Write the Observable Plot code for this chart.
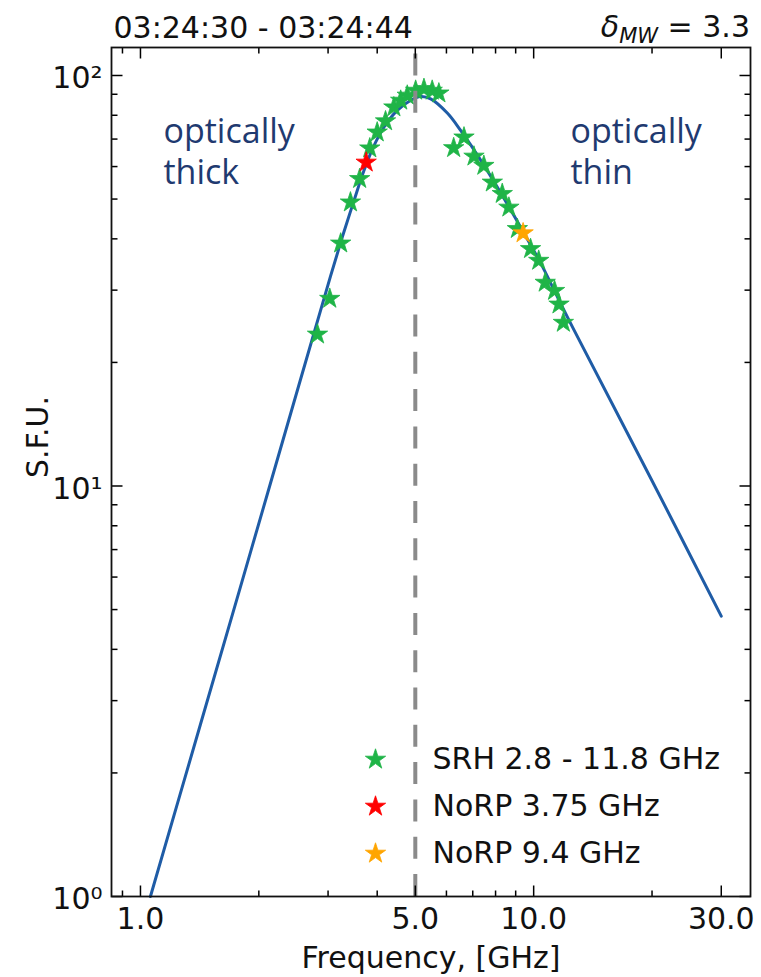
<!DOCTYPE html>
<html><head><meta charset="utf-8">
<script src="https://cdn.jsdelivr.net/npm/d3@7"></script>
<script src="https://cdn.jsdelivr.net/npm/@observablehq/plot@0.6"></script>
<style>html,body{margin:0;padding:0;background:#fff}</style>
</head><body><div id="chart"></div>
<script>
// ---- data ----
const curveFreq = [1.06, 1.42, 1.905, 2.554, 3.045, 3.29, 3.49, 3.7, 3.89, 4.16, 4.5, 4.86, 5.16, 5.47, 6.03, 6.52, 7.47, 8.32, 9.45, 10.42, 11.49, 12.66, 20.0, 30.0];
const curveFlux = [1.0, 2.62, 6.9, 18.2, 32.5, 41.5, 49.5, 58.6, 66.2, 74.8, 82.2, 86.9, 88.9, 87.7, 81.0, 73.5, 60.5, 51.0, 41.3, 34.9, 28.9, 24.0, 10.3, 4.82];

const srhFreq = [2.82, 3.03, 3.23, 3.42, 3.61, 3.83, 4.00, 4.20, 4.41, 4.59, 4.77, 5.01, 5.26, 5.52, 5.74, 6.26, 6.65, 7.05, 7.47, 7.85, 8.32, 8.65, 9.09, 9.82, 10.3, 10.7, 11.3, 11.6, 11.9];
const srhFlux = [23.4, 28.6, 39.0, 49.1, 56.0, 66.5, 72.7, 77.4, 83.7, 86.9, 89.4, 91.9, 92.8, 91.9, 90.5, 66.6, 70.7, 63.5, 60.3, 54.9, 51.5, 47.7, 42.3, 37.8, 35.4, 31.3, 29.9, 27.7, 25.0];

const norp375Freq = [3.75];
const norp375Flux = [61.4];
const norp94Freq = [9.4];
const norp94Flux = [41.3];

const peakLine = [5.0];

const xTickValues = [1, 5, 10, 30];
const xTickLabels = ["1.0", "5.0", "10.0", "30.0"];
const xMinorTicks = [0.9, 2, 3, 4, 6, 7, 8, 9, 20];
const yTickValues = [1, 10, 100];
const yTickLabels = ["10\u2070", "10\u00B9", "10\u00B2"];
const yMinorTicks = [2, 3, 4, 5, 6, 7, 8, 9, 20, 30, 40, 50, 60, 70, 80, 90];

const legendLabels = ["SRH 2.8 - 11.8 GHz", "NoRP 3.75 GHz", "NoRP 9.4 GHz"];
const titleLeft = "03:24:30 - 03:24:44";
const xLabel = "Frequency, [GHz]";
const yLabel = "S.F.U.";
const annotThick = ["optically", "thick"];
const annotThin = ["optically", "thin"];

// ---- layout / style ----
const W = 761, H = 977;
const mL = 111, mR = 11, mT = 47, mB = 81;
const xDomain = [0.844, 35.6], yDomain = [1, 117];
const green = "#1fb447", red = "#ff0000", orange = "#ffa500";
const legendColors = [green, red, orange];
const curveColor = "#1f5ca6";
const annotColor = "#1f3a70";
const FS = 30;

const curve = curveFreq.map((f, i) => ({f, s: curveFlux[i]}));
const srh = srhFreq.map((f, i) => ({f, s: srhFlux[i]}));
const n375 = norp375Freq.map((f, i) => ({f, s: norp375Flux[i]}));
const n94 = norp94Freq.map((f, i) => ({f, s: norp94Flux[i]}));

const tickSym = (dx, dy) => ({draw(c) { c.moveTo(0, 0); c.lineTo(dx, dy); }});
const MAJ = 11, MIN = 6;
const tk = {stroke: "black", fill: "none", strokeWidth: 1.5};
const annotStyle = {frameAnchor: "top-left", textAnchor: "start", lineAnchor: "bottom", fontSize: 34, fontFamily: "Open Sans", fill: annotColor, text: d => d};

const marks = [
  Plot.line(curve, {x: "f", y: "s", stroke: curveColor, strokeWidth: 3, curve: "catmull-rom"}),
  Plot.dot(srh, {x: "f", y: "s", symbol: "star", r: 6.4, fill: green, stroke: green, strokeWidth: 0.8}),
  Plot.dot(n375, {x: "f", y: "s", symbol: "star", r: 6.4, fill: red, stroke: red, strokeWidth: 0.8}),
  Plot.dot(n94, {x: "f", y: "s", symbol: "star", r: 6.4, fill: orange, stroke: orange, strokeWidth: 0.8}),
  Plot.ruleX(peakLine, {x: d => d, y1: yDomain[0], y2: yDomain[1], stroke: "#8a8a8a", strokeWidth: 4, strokeDasharray: "22,15.3"}),
  // ticks (inward, all four sides)
  Plot.dot(xTickValues, {x: d => d, frameAnchor: "bottom", symbol: tickSym(0, -MAJ), ...tk}),
  Plot.dot(xMinorTicks, {x: d => d, frameAnchor: "bottom", symbol: tickSym(0, -MIN), ...tk}),
  Plot.dot(xTickValues, {x: d => d, frameAnchor: "top", symbol: tickSym(0, MAJ), ...tk}),
  Plot.dot(xMinorTicks, {x: d => d, frameAnchor: "top", symbol: tickSym(0, MIN), ...tk}),
  Plot.dot(yTickValues, {y: d => d, frameAnchor: "left", symbol: tickSym(MAJ, 0), ...tk}),
  Plot.dot(yMinorTicks, {y: d => d, frameAnchor: "left", symbol: tickSym(MIN, 0), ...tk}),
  Plot.dot(yTickValues, {y: d => d, frameAnchor: "right", symbol: tickSym(-MAJ, 0), ...tk}),
  Plot.dot(yMinorTicks, {y: d => d, frameAnchor: "right", symbol: tickSym(-MIN, 0), ...tk}),
  Plot.frame({stroke: "#111", strokeWidth: 1.8}),
  // tick labels
  Plot.axisX(xTickValues, {anchor: "bottom", tickSize: 0, tickPadding: 11, label: null,
    tickFormat: d => xTickLabels[xTickValues.indexOf(d)], fontSize: FS, fill: "#111"}),
  Plot.axisY(yTickValues, {anchor: "left", tickSize: 0, tickPadding: 9, label: null, dy: 3,
    tickFormat: d => yTickLabels[yTickValues.indexOf(d)], fontSize: FS, fill: "#111"}),
  // axis titles
  Plot.text([xLabel], {frameAnchor: "bottom", lineAnchor: "bottom", dy: 71, fontSize: FS, fill: "#111", text: d => d}),
  Plot.text([yLabel], {frameAnchor: "left", rotate: -90, lineAnchor: "bottom", dx: -64, dy: 6, fontSize: FS, fill: "#111", text: d => d}),
  // title left
  Plot.text([titleLeft], {frameAnchor: "top-left", textAnchor: "start", lineAnchor: "bottom", dx: 2, dy: -10, fontSize: FS, fill: "#111", text: d => d}),
  // annotations (two lines each)
  Plot.text([annotThick[0]], {...annotStyle, dx: 52, dy: 95}),
  Plot.text([annotThick[1]], {...annotStyle, dx: 52, dy: 136}),
  Plot.text([annotThin[0]], {...annotStyle, dx: 459, dy: 95}),
  Plot.text([annotThin[1]], {...annotStyle, dx: 459, dy: 136})
];

// legend
legendLabels.forEach((lab, i) => {
  marks.push(Plot.dot([lab], {frameAnchor: "top-left", dx: 264, dy: 712 + 47 * i, symbol: "star", r: 6.4, fill: legendColors[i], stroke: legendColors[i], strokeWidth: 0.8}));
  marks.push(Plot.text([lab], {frameAnchor: "top-left", textAnchor: "start", lineAnchor: "bottom", dx: 321, dy: 721 + 47 * i, fontSize: FS, fill: "#111", text: d => d}));
});

const chart = Plot.plot({
  width: W, height: H,
  marginLeft: mL, marginRight: mR, marginTop: mT, marginBottom: mB,
  style: {fontFamily: "'DejaVu Sans', sans-serif", fontSize: FS + "px", background: "#fff", color: "#111"},
  x: {type: "log", domain: xDomain, axis: null, label: null},
  y: {type: "log", domain: yDomain, axis: null, label: null},
  marks
});

// right-hand title with math subscript: δ_MW = 3.3
const t = d3.select(chart).append("text")
  .attr("x", W - mR).attr("y", mT - 10)
  .attr("text-anchor", "end")
  .attr("font-family", "'DejaVu Sans', sans-serif")
  .attr("font-size", FS).attr("fill", "#111");
t.append("tspan").attr("font-style", "italic").text("\u03B4");
t.append("tspan").attr("font-style", "italic").attr("font-size", 21).attr("dy", 6).text("MW");
t.append("tspan").attr("dy", -6).text(" = 3.3");

document.getElementById("chart").appendChild(chart);
</script>
</body></html>
